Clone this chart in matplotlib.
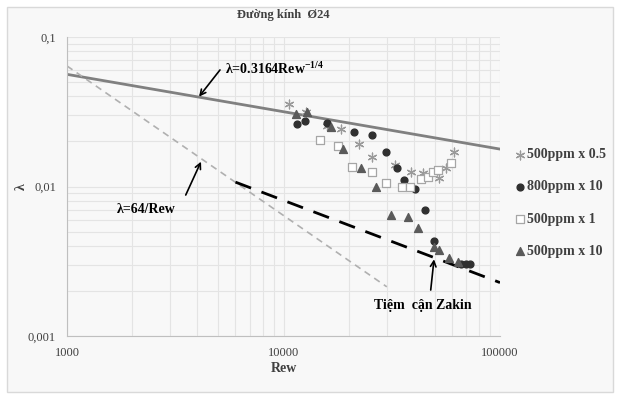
import numpy as np
import matplotlib
matplotlib.use("Agg")
import matplotlib.pyplot as plt
from matplotlib.patches import Rectangle

plt.rcParams['font.family'] = ['Liberation Serif', 'DejaVu Serif']
plt.rcParams['mathtext.fontset'] = 'custom'
plt.rcParams['mathtext.rm'] = 'Liberation Serif:bold'
plt.rcParams['mathtext.bf'] = 'Liberation Serif:bold'
plt.rcParams['mathtext.it'] = 'Liberation Serif:bold'

# Dữ liệu
re_05 = [10640, 12700, 15830, 18370, 22400, 25550, 32840, 38800, 44090, 52110, 56490, 61300]
lam_05 = [0.0355, 0.0316, 0.0254, 0.0242, 0.0192, 0.0158, 0.0139, 0.01256, 0.01226, 0.0114, 0.01323, 0.0170]

re_800 = [11580, 12610, 15880, 21230, 25640, 29840, 33440, 36140, 40630, 44900, 49720, 65830, 69420, 72660]
lam_800 = [0.0262, 0.0274, 0.0265, 0.0230, 0.0221, 0.0170, 0.0133, 0.01105, 0.00967, 0.00697, 0.00432,
           0.00305, 0.00305, 0.00305]

re_1 = [14740, 17910, 20790, 25720, 29840, 35260, 38520, 43160, 46650, 49040, 51880, 59190]
lam_1 = [0.0204, 0.0187, 0.01356, 0.01245, 0.0105, 0.00988, 0.00997, 0.01117, 0.01163, 0.0125, 0.01283, 0.0143]

re_10 = [11390, 12800, 16520, 18770, 22730, 26750, 31370, 37590, 41950, 49410, 52270, 58320, 64190]
lam_10 = [0.0304, 0.0313, 0.0249, 0.0178, 0.0133, 0.00997, 0.00645, 0.00622, 0.0053, 0.00396, 0.00376,
          0.00334, 0.00314]

# Đường lý thuyết
re_blasius = np.array([1000, 100000])
re_lam = np.array([1000, 30000])
re_zakin = np.array([6000, 100000])

fig = plt.figure(figsize=(6.2, 3.99), dpi=100)
fig.patch.set_facecolor('white')
fig.patches.append(Rectangle((7 / 620, 7 / 399), 606 / 620, 385 / 399, transform=fig.transFigure,
                             facecolor='#f8f8f8', edgecolor='#d9d9d9', lw=1, zorder=-1))

ax = fig.add_axes([67 / 620, 1 - 336 / 399, 433 / 620, 299 / 399])
ax.set_facecolor('none')
ax.set_xscale('log')
ax.set_yscale('log')
ax.set_xlim(1000, 100000)
ax.set_ylim(0.001, 0.1)

ax.plot(re_blasius, 0.3164 * re_blasius ** -0.25, color='#808080', lw=2, zorder=2)
ax.plot(re_lam, 64 / re_lam, color='#b0b0b0', lw=1.2, ls=(0, (4, 3)), zorder=2)
ax.plot(re_zakin, 1.28 * re_zakin ** -0.55, color='black', lw=2, ls=(0, (6, 4)), zorder=2)

ax.scatter(re_05, lam_05, marker=(6, 2, 0), s=40, color='#9a9a9a', lw=0.9, label='500ppm x 0.5', zorder=3)
ax.scatter(re_800, lam_800, marker='o', s=24, color='#303030', label='800ppm x 10', zorder=3)
ax.scatter(re_1, lam_1, marker='s', s=28, facecolor='white', edgecolor='#a6a6a6', lw=0.9, label='500ppm x 1', zorder=3)
ax.scatter(re_10, lam_10, marker='^', s=32, color='#5a5a5a', label='500ppm x 10', zorder=3)

ax.grid(True, which='both', color='#e4e4e4', lw=0.8)
ax.set_axisbelow(True)
for s in ['top', 'right']:
    ax.spines[s].set_visible(False)
for s in ['left', 'bottom']:
    ax.spines[s].set_color('#bfbfbf')
ax.tick_params(which='both', length=0, labelsize=9, colors='#404040', pad=8)
ax.set_xticks([1000, 10000, 100000])
ax.set_xticklabels(['1000', '10000', '100000'])
ax.set_yticks([0.001, 0.01, 0.1])
ax.set_yticklabels(['0,001', '0,01', '0,1'])
ax.minorticks_on()
ax.tick_params(which='minor', labelleft=False, labelbottom=False)

ax.set_xlabel('Rew', fontsize=10, fontweight='bold', color='#404040', labelpad=2)
ax.set_ylabel('λ', fontsize=10, fontweight='bold', color='#404040')
ax.yaxis.set_label_coords(-0.09, 0.5)
ax.set_title('Đường kính  Ø24', fontsize=9, fontweight='bold', color='#404040', pad=14)

arrow = dict(arrowstyle='->', color='black', lw=1.2, shrinkA=0, shrinkB=0)
ax.annotate('', xy=(4073, 0.0399), xytext=(5089, 0.0602), arrowprops=arrow)
ax.text(5370, 0.0615, 'λ=0.3164Rew$^{-1/4}$', fontsize=10, fontweight='bold', ha='left', va='center')
ax.annotate('', xy=(4159, 0.01466), xytext=(3535, 0.00877), arrowprops=arrow)
ax.text(2317, 0.00697, 'λ=64/Rew', fontsize=10, fontweight='bold', ha='center', va='center')
ax.annotate('', xy=(49570, 0.00326), xytext=(47860, 0.00203), arrowprops=arrow)
ax.text(44090, 0.00161, 'Tiệm  cận Zakin', fontsize=10, fontweight='bold', ha='center', va='center')

fig.legend(loc='center left', bbox_to_anchor=(502 / 620, 1 - 203 / 399), frameon=False,
           prop={'weight': 'bold', 'size': 10}, labelspacing=1.38, handlelength=0.8,
           handletextpad=0.1, labelcolor='#404040')

fig.savefig('out.png', dpi=100, facecolor=fig.get_facecolor())
